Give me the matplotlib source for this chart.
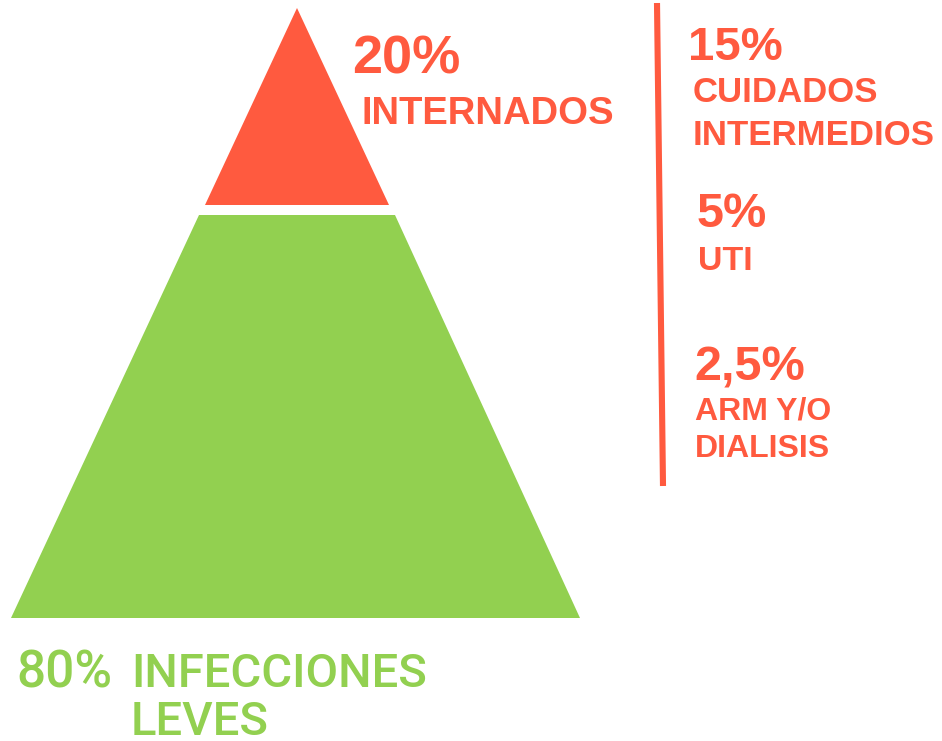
import matplotlib.pyplot as plt
from matplotlib.patches import Polygon

# niveles de la piramide
niveles = ["INTERNADOS", "INFECCIONES\nLEVES"]
porcentajes = ["20%", "80%"]

# desglose de internados
sub_porcentajes = ["15%", "5%", "2,5%"]
sub_niveles = ["CUIDADOS\nINTERMEDIOS", "UTI", "ARM Y/O\nDIALISIS"]

ROJO = "#FF5A3F"
VERDE = "#92D050"

plt.rcParams["font.family"] = ["Liberation Sans", "DejaVu Sans"]

fig = plt.figure(figsize=(9.42, 7.41), dpi=100)
ax = fig.add_axes([0, 0, 1, 1])
ax.set_xlim(0, 942)
ax.set_ylim(741, 0)
ax.axis("off")

# piramide (pixeles)
punta = Polygon([(297, 8), (389, 205), (205, 205)], closed=True,
                facecolor=ROJO, edgecolor="none")
base = Polygon([(199, 215), (395, 215), (580, 618), (11, 618)], closed=True,
               facecolor=VERDE, edgecolor="none")
ax.add_patch(punta)
ax.add_patch(base)

# linea vertical
ax.plot([657, 663], [3, 486], color=ROJO, lw=4.4, solid_capstyle="butt")

# textos de la punta
ax.text(352, 74, porcentajes[0], color=ROJO, fontsize=39, fontweight="bold", va="baseline")
ax.text(362, 124, niveles[0], color=ROJO, fontsize=27.5, fontweight="bold", va="baseline")

# textos del desglose
pos_pct = [(688, 60, 34), (697, 227, 35), (694, 380, 35)]
pos_txt = [(693, 102, 25, 43), (698, 270, 24.5, 0), (695, 419, 23, 38)]
for pct, txt, (xp, yp, sp), (xt, yt, st, dl) in zip(sub_porcentajes, sub_niveles, pos_pct, pos_txt):
    ax.text(xp, yp, pct, color=ROJO, fontsize=sp, fontweight="bold", va="baseline")
    lineas = txt.split("\n")
    for i, l in enumerate(lineas):
        ax.text(xt, yt + i * dl, l, color=ROJO, fontsize=st, fontweight="bold", va="baseline")

# textos de la base
fuente_verde = ["Roboto", "DejaVu Sans"]
ax.text(16, 687, porcentajes[1], color=VERDE, fontsize=37, fontweight="medium",
        family=fuente_verde, va="baseline")
lineas = niveles[1].split("\n")
ax.text(131, 687, lineas[0], color=VERDE, fontsize=34, fontweight="medium",
        family=fuente_verde, va="baseline")
ax.text(131, 735, lineas[1], color=VERDE, fontsize=34, fontweight="medium",
        family=fuente_verde, va="baseline")

fig.savefig("out.png", dpi=100)
